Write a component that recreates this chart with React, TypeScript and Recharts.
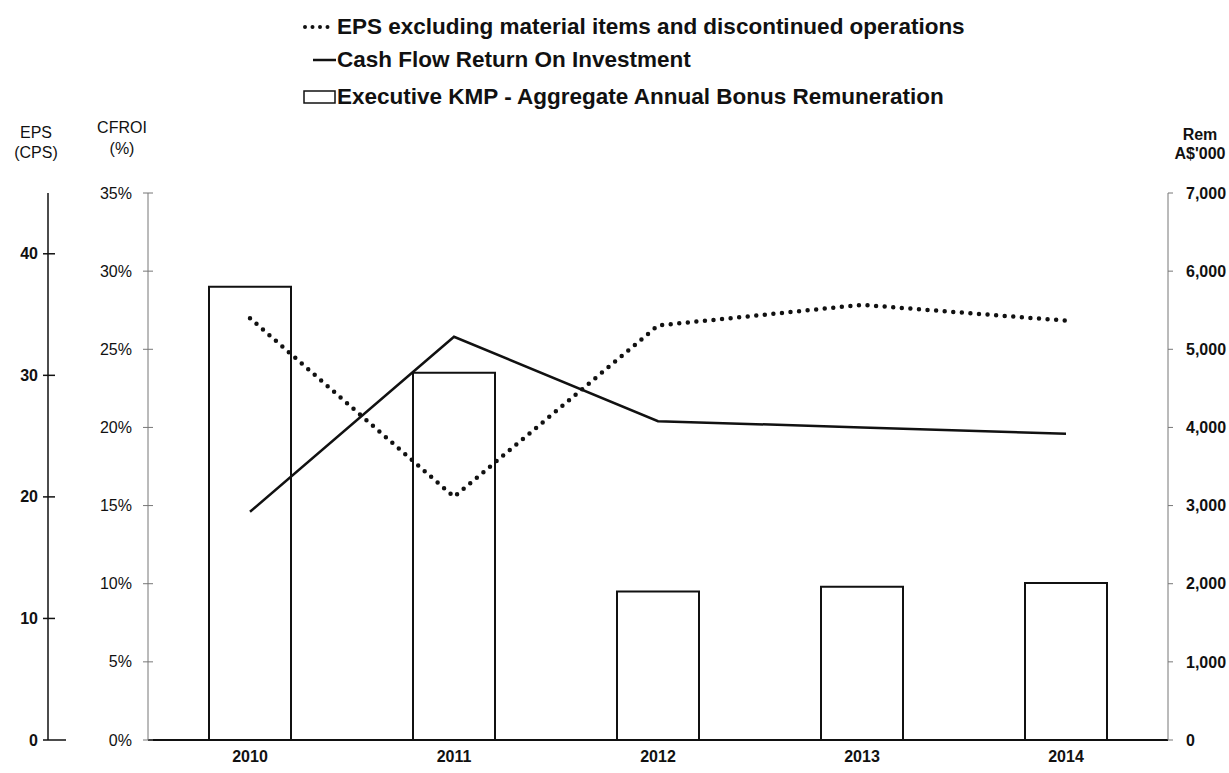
import { ComposedChart, Bar, Line, XAxis, YAxis, Legend } from 'recharts';

const INK = '#111';
const FONT = '"Liberation Sans", Arial, sans-serif';

const YEARS = ['2010', '2011', '2012', '2013', '2014'];
const EPS_CPS = [34.7, 20.0, 34.1, 35.8, 34.5];
const CFROI_PCT = [14.6, 25.8, 20.4, 20.0, 19.6];
const BONUS_REM = [5800, 4700, 1900, 1960, 2010];

const CFROI_TICKS = [0, 5, 10, 15, 20, 25, 30, 35];
const EPS_TICKS = [0, 10, 20, 30, 40];
const REM_TICKS = [0, 1000, 2000, 3000, 4000, 5000, 6000, 7000];

const data = YEARS.map((year, i) => ({ year, eps: EPS_CPS[i], cfroi: CFROI_PCT[i], rem: BONUS_REM[i] }));

// tick text sits at axis - margin (tickSize 0), so the axis x is x + margin
const CfroiTick = (props: any) => {
    const { x, y, payload } = props;
    const ax = x + 16;
    return (
        <g>
            <line x1={ax - 5} y1={y} x2={ax + 5} y2={y} stroke="#777" strokeWidth={1} />
            <text x={x} y={y} dy="0.35em" textAnchor="end" fontFamily={FONT} fontSize={16} fill={INK}>
                {payload.value}%
            </text>
        </g>
    );
};

const EpsTick = (props: any) => {
    const { x, y, payload } = props;
    const ax = x + 10;
    const right = payload.value === 0 ? 18 : 7;
    return (
        <g>
            <line x1={ax - 5} y1={y} x2={ax + right} y2={y} stroke={INK} strokeWidth={1.5} />
            <text x={x} y={y} dy="0.35em" textAnchor="end" fontFamily={FONT} fontSize={16} fontWeight="bold" fill={INK}>
                {payload.value}
            </text>
        </g>
    );
};

const twoLineTitle = (a: string, b: string, dx: number, top: number, opts: { bold?: boolean; gap?: number }) => (props: any) => {
    const { viewBox } = props;
    const cx = viewBox.x + dx;
    const cy = viewBox.y - top;
    return (
        <text x={cx} y={cy} textAnchor="middle" fontFamily={FONT} fontSize={16} fontWeight={opts.bold ? 'bold' : 'normal'} fill={INK}>
            <tspan x={cx} dy="0">{a}</tspan>
            <tspan x={cx} dy={opts.gap || 20}>{b}</tspan>
        </text>
    );
};

const LegendBox = () => {
    const row = (top: number): React.CSSProperties => ({
        position: 'absolute', left: 301, top, display: 'flex', alignItems: 'center', whiteSpace: 'nowrap',
    });
    return (
        <div style={{ position: 'relative', height: 120, fontFamily: FONT, fontWeight: 'bold', fontSize: 22.5, color: INK, lineHeight: '26px' }}>
            <div style={row(14)}>
                <svg width={36} height={12}>
                    <line x1={4} y1={6} x2={34} y2={6} stroke={INK} strokeWidth={4} strokeDasharray="0 7.5" strokeLinecap="round" />
                </svg>
                <span>EPS excluding material items and discontinued operations</span>
            </div>
            <div style={row(47)}>
                <svg width={36} height={12}>
                    <line x1={12} y1={6} x2={35} y2={6} stroke={INK} strokeWidth={2.5} />
                </svg>
                <span>Cash Flow Return On Investment</span>
            </div>
            <div style={row(84)}>
                <svg width={36} height={16}>
                    <rect x={3} y={2} width={31} height={12} fill="#fff" stroke={INK} strokeWidth={1.5} />
                </svg>
                <span>Executive KMP - Aggregate Annual Bonus Remuneration</span>
            </div>
        </div>
    );
};

export default function App() {
    return (
        <div style={{ position: 'absolute', left: 0, top: 0, background: '#fff' }}>
            <ComposedChart width={1229} height={773} data={data} margin={{ top: 193, right: 0, bottom: 0, left: 0 }}>
                <Legend
                    layout="vertical"
                    align="center"
                    verticalAlign="middle"
                    wrapperStyle={{ top: 0, left: 0, width: 1229 }}
                    content={() => <LegendBox />}
                />
                <XAxis
                    dataKey="year"
                    height={33}
                    tickLine={false}
                    tickSize={0}
                    tickMargin={11}
                    axisLine={{ stroke: INK, strokeWidth: 2 }}
                    tick={{ fontFamily: FONT, fontSize: 16, fontWeight: 'bold', fill: INK }}
                />
                <YAxis
                    yAxisId="cfroi"
                    orientation="left"
                    width={100}
                    domain={[0, 35]}
                    ticks={CFROI_TICKS}
                    interval={0}
                    tickSize={0}
                    tickMargin={16}
                    tickLine={false}
                    axisLine={{ stroke: '#777', strokeWidth: 1 }}
                    tick={<CfroiTick />}
                    label={twoLineTitle('CFROI', '(%)', 74, 60, { gap: 21 })}
                />
                <YAxis
                    yAxisId="eps"
                    orientation="left"
                    width={48}
                    domain={[0, 45]}
                    ticks={EPS_TICKS}
                    interval={0}
                    tickSize={0}
                    tickMargin={10}
                    tickLine={false}
                    axisLine={{ stroke: INK, strokeWidth: 1.5 }}
                    tick={<EpsTick />}
                    label={twoLineTitle('EPS', '(CPS)', 36, 55, {})}
                />
                <YAxis
                    yAxisId="rem"
                    orientation="right"
                    width={61}
                    domain={[0, 7000]}
                    ticks={REM_TICKS}
                    interval={0}
                    tickSize={5}
                    tickMargin={13}
                    tickLine={{ stroke: '#777' }}
                    axisLine={{ stroke: '#777', strokeWidth: 1 }}
                    tickFormatter={(v: number) => v.toLocaleString('en-US')}
                    tick={{ fontFamily: FONT, fontSize: 16, fontWeight: 'bold', fill: INK }}
                    label={twoLineTitle('Rem', "A$'000", 32, 53, { bold: true, gap: 19 })}
                />
                <Bar yAxisId="rem" dataKey="rem" barSize={82} fill="#fff" stroke={INK} strokeWidth={2} isAnimationActive={false} />
                <Line yAxisId="cfroi" dataKey="cfroi" type="linear" stroke={INK} strokeWidth={2.5} dot={false} isAnimationActive={false} />
                <Line
                    yAxisId="eps"
                    dataKey="eps"
                    type="linear"
                    stroke={INK}
                    strokeWidth={4.5}
                    strokeDasharray="0 8.6"
                    strokeLinecap="round"
                    dot={false}
                    isAnimationActive={false}
                />
            </ComposedChart>
        </div>
    );
}
